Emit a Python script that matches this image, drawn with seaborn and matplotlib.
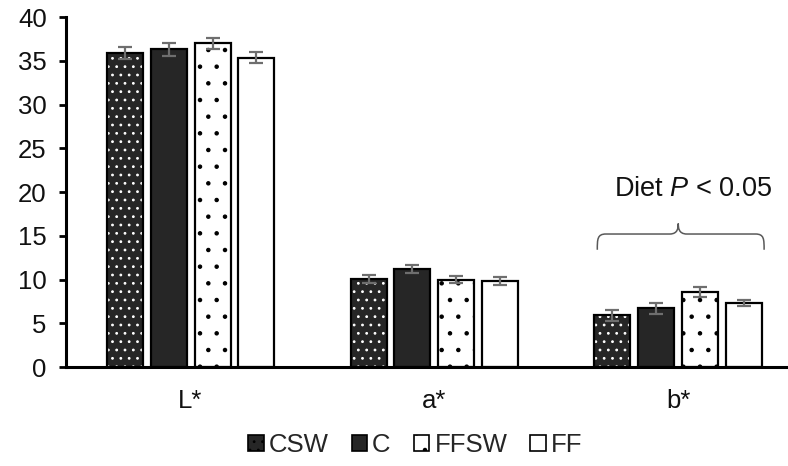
"""
Colour attributes (L*, a*, b*) by treatment, grouped bar chart with SE bars.
"""
import matplotlib
matplotlib.use("Agg")
import matplotlib.pyplot as plt
import pandas as pd
import seaborn as sns
from matplotlib.patches import Patch, Rectangle, PathPatch
from matplotlib.path import Path

# --- data --------------------------------------------------------------
attributes = ["L*", "a*", "b*"]
treatments = ["CSW", "C", "FFSW", "FF"]
csw = [35.9, 10.1, 5.9]
c = [36.3, 11.2, 6.7]
ffsw = [37.0, 10.0, 8.6]
ff = [35.35, 9.86, 7.35]
csw_se = [0.7, 0.45, 0.65]
c_se = [0.7, 0.5, 0.65]
ffsw_se = [0.65, 0.45, 0.6]
ff_se = [0.65, 0.45, 0.35]
y_ticks = [0, 5, 10, 15, 20, 25, 30, 35, 40]
note = "Diet $\\it{P}$ < 0.05"

means = {"CSW": csw, "C": c, "FFSW": ffsw, "FF": ff}
ses = {"CSW": csw_se, "C": c_se, "FFSW": ffsw_se, "FF": ff_se}
df = pd.DataFrame(
    [(a, t, means[t][i], ses[t][i]) for t in treatments for i, a in enumerate(attributes)],
    columns=["attribute", "treatment", "value", "se"],
)

sns.set_theme(style="white")
plt.rcParams["font.family"] = ["Liberation Sans", "DejaVu Sans"]
plt.rcParams["mathtext.fontset"] = "custom"
plt.rcParams["mathtext.it"] = "Liberation Sans:italic"
plt.rcParams["mathtext.rm"] = "Liberation Sans"
plt.rcParams["hatch.linewidth"] = 0.8

fills = {"CSW": "#262626", "C": "#262626", "FFSW": "white", "FF": "white"}
hatches = {"CSW": "..", "C": "", "FFSW": ".", "FF": ""}
hatch_cols = {"CSW": "white", "C": "#262626", "FFSW": "black", "FF": "black"}

fig = plt.figure(figsize=(7.88, 4.66), dpi=100)
ax = fig.add_axes([0.084, 0.2124, 0.916, 0.7511])

sns.barplot(
    data=df, x="attribute", y="value", hue="treatment",
    order=attributes, hue_order=treatments, palette=fills,
    width=0.72, gap=0.18, errorbar=None, legend=False, ax=ax,
)

# style bars per treatment, outline and error bars
for t, container in zip(treatments, ax.containers):
    for i, bar in enumerate(container):
        bar.set_hatch(hatches[t])
        bar.set_edgecolor(hatch_cols[t])
        bar.set_linewidth(0)
        ax.add_patch(Rectangle(bar.get_xy(), bar.get_width(), bar.get_height(),
                               fill=False, edgecolor="black", linewidth=1.6, zorder=3))
        xc = bar.get_x() + bar.get_width() / 2
        ax.errorbar(xc, bar.get_height(), yerr=ses[t][i], color="#6e6e6e",
                    elinewidth=1.6, capsize=5, capthick=1.6, zorder=4)

# curly brace over the b* group
x0, x1, xm = 1.668, 2.352, 2.0
yb, yf, yt = 13.4, 15.2, 16.4
d = 0.035
verts = [(x0, yb), (x0, yf - 0.6), (x0, yf), (x0 + d, yf),
         (xm - d, yf), (xm, yf), (xm, yt - 0.4), (xm, yt),
         (xm, yt - 0.4), (xm, yf), (xm + d, yf),
         (x1 - d, yf), (x1, yf), (x1, yf - 0.6), (x1, yb)]
codes = [Path.MOVETO, Path.CURVE4, Path.CURVE4, Path.CURVE4,
         Path.LINETO, Path.CURVE4, Path.CURVE4, Path.CURVE4,
         Path.CURVE4, Path.CURVE4, Path.CURVE4,
         Path.LINETO, Path.CURVE4, Path.CURVE4, Path.CURVE4]
ax.add_patch(PathPatch(Path(verts, codes), fill=False, edgecolor="#595959", linewidth=1.1))
ax.text(2.06, 20.3, note, ha="center", va="center", fontsize=19.5, color="#111111")

ax.set_xlim(-0.51, 2.45)
ax.set_ylim(0, 40)
ax.set_yticks(y_ticks)
ax.set_xlabel("")
ax.set_ylabel("")
sns.despine(ax=ax)
for side in ["left", "bottom"]:
    ax.spines[side].set_color("black")
    ax.spines[side].set_linewidth(2.2)
ax.tick_params(axis="y", left=True, length=5, width=2, color="black",
               labelsize=18.5, labelcolor="#111111", pad=9)
ax.tick_params(axis="x", bottom=False, labelsize=18.5, labelcolor="#111111", pad=10)

handles = [Patch(facecolor=fills[t], edgecolor="black", hatch=hatches[t], linewidth=1.2)
           for t in treatments]
fig.legend(handles, treatments, loc="center", bbox_to_anchor=(0.527, 0.045), ncol=4,
           frameon=False, fontsize=18.5, handlelength=0.6, handleheight=0.6,
           handletextpad=0.2, columnspacing=0.9)

fig.savefig("out.png", dpi=100)
